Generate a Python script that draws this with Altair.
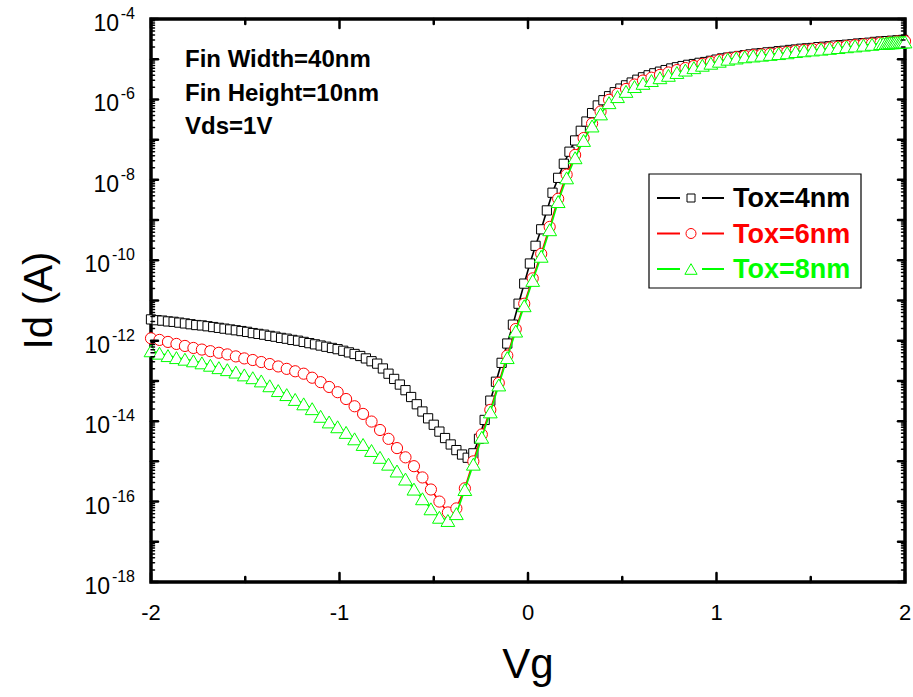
import altair as alt
import numpy as np
import pandas as pd

FONT = "Liberation Sans"
W, H = 754, 563

# ---------------- data: gate voltage and log10(Id) ----------------
vg_4nm = np.round(-2.0 + 0.03 * np.arange(134), 3)
log_id_4nm = [
    -11.47, -11.49, -11.50, -11.52, -11.53, -11.55, -11.57, -11.59, -11.61, -11.62,
    -11.64, -11.66, -11.68, -11.70, -11.72, -11.74, -11.76, -11.78, -11.81, -11.83,
    -11.85, -11.88, -11.90, -11.93, -11.95, -11.98, -12.00, -12.03, -12.06, -12.09,
    -12.12, -12.15, -12.18, -12.21, -12.25, -12.29, -12.33, -12.38, -12.44, -12.51,
    -12.57, -12.69, -12.82, -12.95, -13.09, -13.23, -13.40, -13.58, -13.76, -13.93,
    -14.09, -14.26, -14.42, -14.58, -14.72, -14.83, -14.91, -14.80, -14.44, -13.97,
    -13.49, -13.02, -12.55, -12.07, -11.60, -11.08, -10.58, -10.08, -9.64, -9.23,
    -8.76, -8.32, -7.95, -7.60, -7.30, -7.02, -6.78, -6.55, -6.34, -6.15,
    -6.02, -5.92, -5.82, -5.73, -5.65, -5.58, -5.51, -5.45, -5.40, -5.35,
    -5.31, -5.27, -5.23, -5.20, -5.17, -5.14, -5.12, -5.09, -5.07, -5.04,
    -5.01, -4.98, -4.96, -4.94, -4.92, -4.90, -4.88, -4.86, -4.85, -4.83,
    -4.82, -4.80, -4.79, -4.77, -4.76, -4.74, -4.73, -4.72, -4.70, -4.69,
    -4.68, -4.66, -4.65, -4.64, -4.63, -4.61, -4.60, -4.59, -4.57, -4.56,
    -4.55, -4.54, -4.53, -4.52,
]

vg_6nm = np.append(np.round(-2.0 + 0.045 * np.arange(89), 3), 2.0)
log_id_6nm = [
    -11.94, -11.98, -12.03, -12.08, -12.13, -12.18, -12.22, -12.26, -12.30, -12.34,
    -12.39, -12.44, -12.48, -12.53, -12.58, -12.64, -12.70, -12.76, -12.82, -12.92,
    -13.03, -13.15, -13.28, -13.45, -13.63, -13.82, -14.01, -14.22, -14.44, -14.67,
    -14.90, -15.12, -15.40, -15.70, -16.00, -16.27, -16.17, -15.67, -15.00, -14.33,
    -13.72, -13.05, -12.37, -11.71, -11.08, -10.45, -9.84, -9.17, -8.47, -7.87,
    -7.38, -6.96, -6.60, -6.30, -6.01, -5.86, -5.74, -5.63, -5.53, -5.46,
    -5.39, -5.33, -5.27, -5.22, -5.17, -5.12, -5.07, -5.02, -4.98, -4.95,
    -4.92, -4.90, -4.88, -4.86, -4.84, -4.82, -4.79, -4.77, -4.75, -4.73,
    -4.71, -4.69, -4.67, -4.65, -4.63, -4.61, -4.59, -4.58, -4.56, -4.55,
]

vg_8nm = np.append(np.round(-2.0 + 0.045 * np.arange(87), 3),
                   [1.885, 1.90, 1.91, 1.92, 1.93, 1.94, 1.95, 1.96, 1.97, 1.98, 1.99, 2.0])
log_id_8nm = [
    -12.25, -12.31, -12.37, -12.42, -12.46, -12.50, -12.55, -12.61, -12.67, -12.72,
    -12.78, -12.85, -12.92, -13.00, -13.12, -13.24, -13.34, -13.46, -13.57, -13.69,
    -13.88, -14.02, -14.14, -14.28, -14.44, -14.58, -14.73, -14.90, -15.07, -15.24,
    -15.44, -15.69, -15.93, -16.18, -16.39, -16.47, -16.30, -15.70, -15.07, -14.40,
    -13.77, -13.10, -12.42, -11.76, -11.13, -10.50, -9.90, -9.24, -8.54, -7.95,
    -7.45, -7.02, -6.66, -6.36, -6.08, -5.93, -5.80, -5.68, -5.60, -5.53,
    -5.46, -5.40, -5.33, -5.27, -5.21, -5.15, -5.10, -5.05, -5.00, -4.97,
    -4.94, -4.92, -4.90, -4.88, -4.86, -4.84, -4.81, -4.79, -4.77, -4.75,
    -4.73, -4.71, -4.69, -4.67, -4.65, -4.63, -4.61,
    -4.61, -4.60, -4.60, -4.59, -4.59, -4.59, -4.58, -4.58, -4.58, -4.57, -4.57, -4.57,
]

series_names = ["Tox=4nm", "Tox=6nm", "Tox=8nm"]
series_colors = ["#000000", "#FF0000", "#00FF00"]
series_shapes = ["square", "circle", "triangle-up"]

x_major = [-2, -1, 0, 1, 2]
x_minor = [-1.5, -0.5, 0.5, 1.5]
y_label_exps_2 = [-4, -6, -8]
y_label_exps_3 = [-10, -12, -14, -16, -18]
y_decade_exps = list(range(-18, -3))

x_title = "Vg"
y_title = "Id (A)"
annotation_lines = ["Fin Width=40nm", "Fin Height=10nm", "Vds=1V"]

# ---------------- styles ----------------
marker_sizes = [85, 125, 190]
legend_sizes = [64, 100, 150]

xs = alt.Scale(domain=[-2, 2], nice=False, zero=False)
ys = alt.Scale(type="log", domain=[1e-18, 1e-4], nice=False)

layers = []
all_vg = [vg_4nm, vg_6nm, vg_8nm]
all_lid = [log_id_4nm, log_id_6nm, log_id_8nm]
for k in range(3):
    df = pd.DataFrame({"Vg": all_vg[k], "Id": 10.0 ** np.array(all_lid[k])})
    ex = alt.X("Vg:Q", scale=xs, axis=None)
    ey = alt.Y("Id:Q", scale=ys, axis=None)
    base = alt.Chart(df)
    layers.append(base.mark_line(color=series_colors[k], strokeWidth=1.6).encode(x=ex, y=ey))
    layers.append(base.mark_point(shape=series_shapes[k], size=marker_sizes[k], filled=True,
                                  fill="white", fillOpacity=1, stroke=series_colors[k],
                                  strokeWidth=1, opacity=1).encode(x=ex, y=ey))

# ---------------- inward ticks on all four sides ----------------
def xticks(vals, length):
    d = alt.Chart(pd.DataFrame({"v": vals}))
    m = dict(color="black", strokeWidth=2.5, strokeCap="round")
    bot = d.mark_rule(**m).encode(x=alt.X("v:Q", scale=xs, axis=None), y=alt.value(H), y2=alt.value(H - length))
    top = d.mark_rule(**m).encode(x=alt.X("v:Q", scale=xs, axis=None), y=alt.value(0), y2=alt.value(length))
    return [bot, top]


def yticks(vals, length, width):
    d = alt.Chart(pd.DataFrame({"v": vals}))
    m = dict(color="black", strokeWidth=width, strokeCap="round")
    lft = d.mark_rule(**m).encode(y=alt.Y("v:Q", scale=ys, axis=None), x=alt.value(0), x2=alt.value(length))
    rgt = d.mark_rule(**m).encode(y=alt.Y("v:Q", scale=ys, axis=None), x=alt.value(W), x2=alt.value(W - length))
    return [lft, rgt]


layers += xticks(x_major, 9)
layers += xticks(x_minor, 5)
layers += yticks([10.0 ** e for e in y_decade_exps], 7, 2.5)
layers += yticks([m * 10.0 ** e for e in y_decade_exps[:-1] for m in range(2, 10)], 3.5, 1.5)

# ---------------- x tick labels ----------------
layers.append(alt.Chart(pd.DataFrame({"v": x_major})).transform_calculate(lab="toString(datum.v)")
              .mark_text(align="center", baseline="alphabetic", font=FONT, fontSize=22, color="black")
              .encode(x=alt.X("v:Q", scale=xs, axis=None), y=alt.value(H + 38), text="lab:N"))

# ---------------- y tick labels 10^n ----------------
for exps, ten_x in [(y_label_exps_2, -32), (y_label_exps_3, -41)]:
    d = alt.Chart(pd.DataFrame({"e": exps})).transform_calculate(
        v="pow(10, datum.e)", expo="toString(datum.e)")
    layers.append(d.mark_text(align="right", baseline="middle", font=FONT, fontSize=23, dy=5, color="black")
                  .encode(y=alt.Y("v:Q", scale=ys, axis=None), x=alt.value(ten_x), text=alt.value("10")))
    layers.append(d.mark_text(align="right", baseline="middle", font=FONT, fontSize=16, dy=-5, color="black")
                  .encode(y=alt.Y("v:Q", scale=ys, axis=None), x=alt.value(-16), text="expo:N"))

one = pd.DataFrame({"a": [0]})

# ---------------- axis titles ----------------
layers.append(alt.Chart(one).mark_text(align="center", baseline="alphabetic", font=FONT, fontSize=42,
                                       color="black")
              .encode(x=alt.value(W / 2), y=alt.value(H + 96), text=alt.value(x_title)))
layers.append(alt.Chart(one).mark_text(align="center", baseline="alphabetic", font=FONT, fontSize=40,
                                       color="black", angle=270)
              .encode(x=alt.value(-99), y=alt.value(H / 2), text=alt.value(y_title)))

# ---------------- annotation ----------------
layers.append(alt.Chart(one).mark_text(align="left", baseline="alphabetic", font=FONT, fontSize=24,
                                       fontWeight="bold", lineHeight=33.5, color="black")
              .encode(x=alt.value(34), y=alt.value(48), text=alt.value(annotation_lines)))

# ---------------- legend ----------------
layers.append(alt.Chart(one).mark_rect(fill="white", stroke="black", strokeWidth=1.2)
              .encode(x=alt.value(498), x2=alt.value(710), y=alt.value(155), y2=alt.value(269)))
for k in range(3):
    ry = 179 + k * 35.5
    c = series_colors[k]
    layers.append(alt.Chart(one).mark_rule(color=c, strokeWidth=2)
                  .encode(x=alt.value(506), x2=alt.value(529), y=alt.value(ry)))
    layers.append(alt.Chart(one).mark_rule(color=c, strokeWidth=2)
                  .encode(x=alt.value(551), x2=alt.value(573), y=alt.value(ry)))
    layers.append(alt.Chart(one).mark_point(shape=series_shapes[k], size=legend_sizes[k], filled=True,
                                            fill="white", fillOpacity=1, stroke=c, strokeWidth=1, opacity=1)
                  .encode(x=alt.value(540), y=alt.value(ry)))
    layers.append(alt.Chart(one).mark_text(align="left", baseline="middle", font=FONT, fontSize=27,
                                           fontWeight="bold", color=c)
                  .encode(x=alt.value(582), y=alt.value(ry + 1), text=alt.value(series_names[k])))

chart = alt.layer(*layers).properties(
    width=W, height=H,
    padding={"left": 151, "top": 19, "right": 8, "bottom": 115},
    autosize=alt.AutoSizeParams(type="none"),
    background="white",
).configure_view(stroke="black", strokeWidth=3.5)

chart.save("out.html", embed_options={"renderer": "svg", "actions": False})
